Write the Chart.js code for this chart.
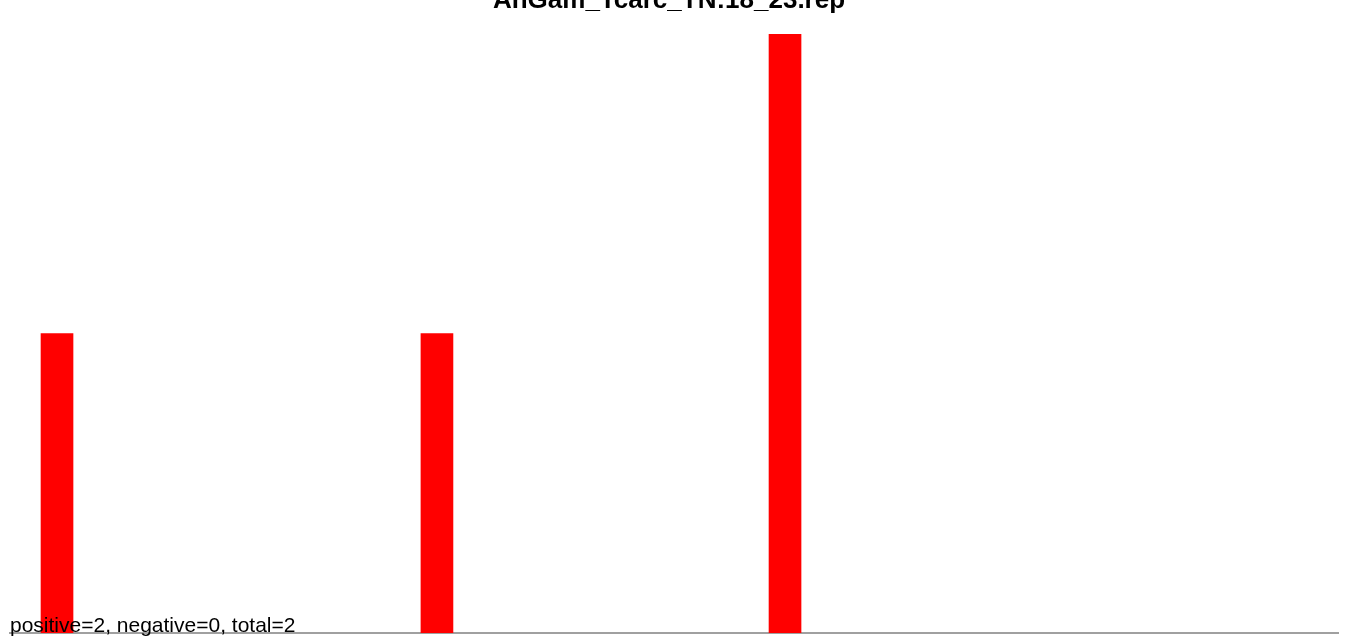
<!DOCTYPE html>
<html>
<head>
<meta charset="utf-8">
<script src="https://cdn.jsdelivr.net/npm/chart.js@4/dist/chart.umd.min.js"></script>
<style>
html,body{margin:0;padding:0;background:#fff;overflow:hidden;}
#wrap{position:relative;width:1350px;height:643px;}
</style>
</head>
<body>
<div id="wrap"><canvas id="c" width="1350" height="643"></canvas></div>
<script>
const chartTitle = "AnGam_Tcarc_TN:18_23.rep";
const footerText = "positive=2, negative=0, total=2";
const positions = [3.54, 32.15, 58.36];
const counts = [1, 1, 2];
const xMin = 0, xMax = 100;
const yMin = 0, yMax = 2;

const points = positions.map((p, i) => ({x: p, y: counts[i]}));

const textPlugin = {
  id: 'texts',
  afterDraw(chart) {
    const ctx = chart.ctx;
    ctx.save();
    ctx.fillStyle = '#000';
    ctx.font = 'bold 26px "Liberation Sans", Arial, sans-serif';
    ctx.textAlign = 'center';
    ctx.textBaseline = 'alphabetic';
    ctx.fillText(chartTitle, 669, 8);
    ctx.font = '21px "Liberation Sans", Arial, sans-serif';
    ctx.textAlign = 'left';
    ctx.fillText(footerText, 10, 632);
    ctx.restore();
  }
};

new Chart(document.getElementById('c'), {
  type: 'bar',
  data: {
    datasets: [{
      data: points,
      backgroundColor: '#ff0000',
      borderWidth: 0,
      barThickness: 32
    }]
  },
  options: {
    responsive: false,
    animation: false,
    layout: {padding: {left: 10, right: 12, top: 34, bottom: 10}},
    plugins: {legend: {display: false}, title: {display: false}, tooltip: {enabled: false}},
    scales: {
      x: {
        type: 'linear', min: xMin, max: xMax, offset: false,
        ticks: {display: false},
        grid: {display: false, drawTicks: false},
        border: {display: true, color: '#a0a0a0', width: 2}
      },
      y: {
        min: yMin, max: yMax, display: false
      }
    }
  },
  plugins: [textPlugin]
});
</script>
</body>
</html>
